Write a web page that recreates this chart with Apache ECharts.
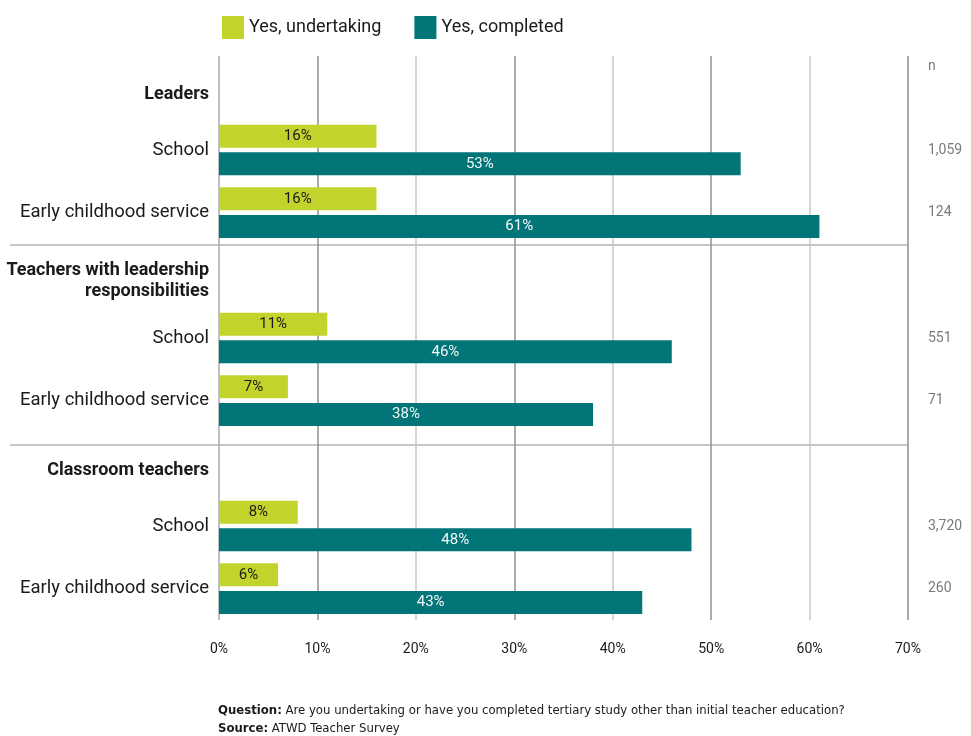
<!DOCTYPE html>
<html>
<head>
<meta charset="utf-8">
<script src="https://cdn.jsdelivr.net/npm/echarts@6/dist/echarts.min.js"></script>
<style>
  html, body { margin: 0; padding: 0; background: #ffffff; }
  #chart { width: 971px; height: 736px; }
</style>
</head>
<body>
<div id="chart"></div>
<script>
// Row labels, top to bottom; group headings carry no values
const rowLabels = [
  'Leaders', 'School', 'Early childhood service',
  'Teachers with leadership\nresponsibilities', 'School', 'Early childhood service',
  'Classroom teachers', 'School', 'Early childhood service'
];
const isHeading = [true, false, false, true, false, false, true, false, false];

// Percent of respondents per row
const undertaking = [null, 16, 16, null, 11, 7, null, 8, 6];
const completed   = [null, 53, 61, null, 46, 38, null, 48, 43];

// Sample sizes shown in the right-hand column
const sampleSizes = ['', '1,059', '124', '', '551', '71', '', '3,720', '260'];

const seriesNames = ['Yes, undertaking', 'Yes, completed'];
const xTicks = [0, 10, 20, 30, 40, 50, 60, 70];

const FONT = "Roboto, 'DejaVu Sans Condensed', sans-serif";
const NOTE_FONT = "'DejaVu Sans Condensed', Roboto, sans-serif";
const TEXT = '#1a1a1a';
const LIME = '#c2d32c';
const TEAL = '#017577';

const chart = echarts.init(document.getElementById('chart'), null, { renderer: 'canvas' });

// Headings sit a little below their row centre: the first line gets a taller,
// bottom-aligned line box
function rowLabel(value, index) {
  if (!isHeading[index]) return rowLabels[index];
  const lines = rowLabels[index].split('\n');
  return lines.map((l, i) => (i === 0 ? '{h|' + l + '}' : '{h2|' + l + '}')).join('\n');
}

chart.setOption({
  animation: false,
  textStyle: { fontFamily: FONT, color: TEXT },
  color: [LIME, TEAL],
  legend: {
    top: 11,
    left: 217,
    itemWidth: 22,
    itemHeight: 23,
    itemGap: 33,
    icon: 'rect',
    textStyle: { fontFamily: FONT, fontSize: 18, color: TEXT },
    data: seriesNames
  },
  grid: { left: 219, right: 63, top: 56, bottom: 116, containLabel: false, outerBoundsMode: 'none' },
  xAxis: {
    type: 'value',
    min: xTicks[0],
    max: xTicks[xTicks.length - 1],
    interval: 10,
    axisLine: { show: false },
    axisTick: { show: false },
    axisLabel: {
      formatter: '{value}%',
      fontFamily: FONT,
      fontSize: 14,
      color: TEXT,
      margin: 22
    },
    splitLine: {
      show: true,
      lineStyle: { color: ['#a9acaf', '#8c9196', '#c6c8ca', '#8c9196', '#c6c8ca', '#8c9196', '#c6c8ca', '#8c9196'], width: 1.5 }
    }
  },
  yAxis: [
    {
      type: 'category',
      inverse: true,
      data: rowLabels,
      axisLine: { show: false },
      axisTick: { show: false },
      splitLine: { show: false },
      axisLabel: {
        interval: 0,
        margin: 10,
        fontFamily: FONT,
        fontSize: 18.5,
        color: TEXT,
        formatter: rowLabel,
        rich: {
          h: { fontFamily: FONT, fontSize: 18, fontWeight: 'bold', color: TEXT, lineHeight: 33, verticalAlign: 'bottom', align: 'right' },
          h2: { fontFamily: FONT, fontSize: 18, fontWeight: 'bold', color: TEXT, lineHeight: 24, align: 'right' }
        }
      }
    },
    {
      type: 'category',
      inverse: true,
      position: 'right',
      data: rowLabels,
      axisLine: { show: false },
      axisTick: { show: false },
      splitLine: { show: false },
      axisLabel: {
        interval: 0,
        margin: 20,
        align: 'left',
        fontFamily: FONT,
        fontSize: 14,
        color: '#7a7a7a',
        formatter: (v, i) => sampleSizes[i]
      }
    }
  ],
  series: [
    {
      name: seriesNames[0],
      type: 'bar',
      data: undertaking,
      barWidth: 23,
      barGap: '20%',
      itemStyle: { color: LIME },
      label: {
        show: true,
        position: 'inside',
        formatter: '{c}%',
        fontFamily: FONT,
        fontSize: 15,
        color: '#1a1a1a'
      }
    },
    {
      name: seriesNames[1],
      type: 'bar',
      data: completed,
      barWidth: 23,
      itemStyle: { color: TEAL },
      label: {
        show: true,
        position: 'inside',
        formatter: '{c}%',
        fontFamily: FONT,
        fontSize: 15,
        color: '#f2f7f7'
      }
    }
  ],
  graphic: [
    { type: 'line', shape: { x1: 10, y1: 245, x2: 908, y2: 245 }, style: { stroke: '#c4c6c8', lineWidth: 2 } },
    { type: 'line', shape: { x1: 10, y1: 445, x2: 908, y2: 445 }, style: { stroke: '#c4c6c8', lineWidth: 2 } },
    { type: 'text', left: 928, top: 59, style: { text: 'n', fontFamily: FONT, fontSize: 14, fill: '#7a7a7a' } },
    {
      type: 'text', left: 218, top: 702,
      style: {
        text: '{b|Question:} Are you undertaking or have you completed tertiary study other than initial teacher education?\n{b|Source:} ATWD Teacher Survey',
        fontFamily: NOTE_FONT,
        fontSize: 13,
        fill: TEXT,
        lineHeight: 18,
        rich: { b: { fontFamily: NOTE_FONT, fontSize: 13, fontWeight: 'bold', fill: TEXT, lineHeight: 18 } }
      }
    }
  ]
});
</script>
</body>
</html>
